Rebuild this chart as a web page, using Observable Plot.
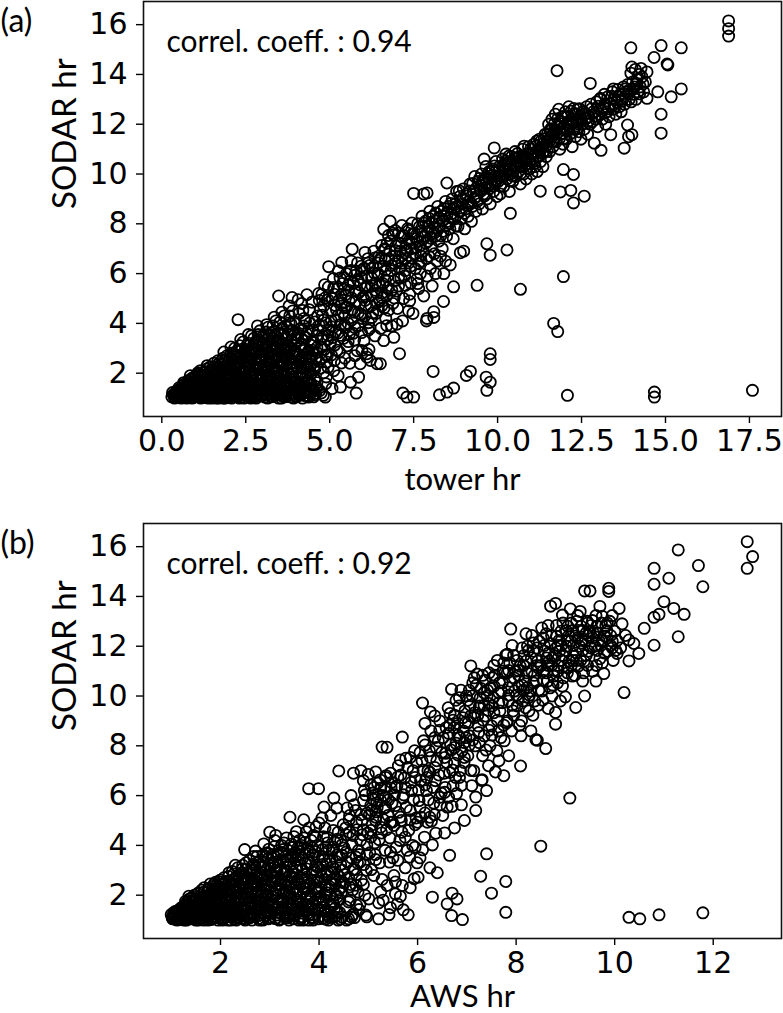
<!DOCTYPE html>
<html>
<head>
<meta charset="utf-8">
<script src="https://cdn.jsdelivr.net/npm/d3@7"></script>
<script src="https://cdn.jsdelivr.net/npm/@observablehq/plot@0.6"></script>
<style>
  body { margin: 0; background: #fff; }
  #chart { width: 783px; }
  #chart svg { display: block; }
</style>
</head>
<body>
<div id="chart"></div>
<script>
// Hourly values (hr): tower / AWS estimates against SODAR estimates, as [x, SODAR] pairs.
const towerVsSodar = [
  // tower 0.3 – 1.0
  [0.30,1.05],[0.32,1.22],[0.38,1.00],[0.41,1.12],[0.45,1.30],[0.48,1.02],[0.35,1.15],[0.50,1.18],
  [0.52,1.08],[0.55,1.35],[0.58,1.00],[0.60,1.22],[0.63,1.50],[0.66,1.05],[0.68,1.30],[0.70,1.15],[0.72,1.42],[0.74,1.00],[0.56,1.15],[0.65,1.62],
  [0.76,1.10],[0.78,1.28],[0.80,1.55],[0.82,1.02],[0.84,1.40],[0.86,1.75],[0.88,1.18],[0.90,1.00],[0.92,1.32],[0.94,1.60],[0.96,1.08],[0.98,1.45],[0.85,1.90],[0.79,1.70],[0.97,1.22],
  [0.36,1.08],[0.43,1.21],[0.47,1.11],[0.53,1.27],[0.57,1.03],[0.61,1.39],[0.64,1.13],[0.69,1.47],[0.71,1.26],[0.73,1.08],[0.77,1.37],[0.81,1.19],[0.83,1.63],[0.87,1.07],[0.89,1.48],[0.91,1.81],[0.93,1.14],[0.95,1.37],[0.99,1.66],[0.62,1.16],[0.84,1.05],
  [0.45,1.17],[0.51,1.06],[0.51,1.41],[0.59,1.29],[0.67,1.19],[0.67,1.56],[0.75,1.33],[0.80,1.12],[0.80,1.68],[0.88,1.38],[0.93,1.02],[0.93,1.52],[0.99,1.26],[0.99,1.87],
  [0.55,1.24],[0.70,1.34],[0.85,1.27],
  // tower 1.0 – 2.0
  [1.00,1.85],[1.02,1.05],[1.04,1.30],[1.06,1.55],[1.08,2.02],[1.10,1.15],[1.12,1.42],[1.14,1.70],[1.16,1.00],[1.18,1.25],[1.20,1.90],[1.22,1.58],[1.24,1.10],[1.05,1.75],[1.15,2.10],[1.21,1.35],
  [1.26,1.02],[1.28,1.48],[1.30,1.78],[1.32,2.05],[1.34,1.20],[1.36,1.62],[1.38,1.00],[1.40,1.35],[1.42,1.92],[1.44,2.25],[1.46,1.12],[1.48,1.55],[1.30,1.30],[1.35,2.30],[1.45,1.75],[1.49,1.00],[1.27,1.65],
  [1.51,1.25],[1.53,1.82],[1.55,2.40],[1.57,1.05],[1.59,1.50],[1.61,2.10],[1.63,1.30],[1.65,1.68],[1.67,2.50],[1.69,1.00],[1.71,1.95],[1.73,1.40],[1.74,2.25],[1.56,1.15],[1.62,1.00],[1.68,1.20],[1.52,2.05],[1.70,1.60],
  [1.76,1.10],[1.78,1.55],[1.80,2.00],[1.82,2.60],[1.84,1.28],[1.86,1.80],[1.88,1.00],[1.90,2.30],[1.92,1.45],[1.94,2.70],[1.96,1.15],[1.98,1.90],[1.77,2.35],[1.83,1.00],[1.89,1.65],[1.95,2.15],[1.99,1.35],[1.85,2.85],
  [1.01,1.12],[1.03,1.44],[1.07,1.23],[1.09,1.67],[1.11,1.93],[1.13,1.04],[1.17,1.52],[1.19,1.31],[1.23,1.82],[1.25,1.18],[1.29,1.41],[1.31,1.57],[1.33,1.09],[1.37,1.86],[1.39,1.27],[1.41,1.68],[1.43,1.06],[1.47,2.13],[1.49,1.38],
  [1.52,1.13],[1.54,1.67],[1.58,1.97],[1.60,1.36],[1.64,1.11],[1.66,1.83],[1.68,2.27],[1.72,1.52],[1.75,1.21],[1.78,2.12],[1.79,1.43],[1.81,1.74],[1.84,2.42],[1.87,1.06],[1.91,1.98],[1.93,1.26],[1.97,2.47],[1.99,1.58],
  [1.08,1.06],[1.35,1.14],[1.56,1.03],[1.83,1.12],[1.18,1.62],[1.44,1.44],[1.72,1.78],[1.94,1.55],
  [1.04,1.61],[1.04,1.09],[1.09,1.38],[1.09,1.97],[1.14,1.21],[1.14,1.83],[1.19,1.49],[1.19,1.08],[1.24,1.69],[1.24,2.03],[1.29,1.13],[1.29,1.89],[1.34,1.51],[1.34,2.17],[1.39,1.74],[1.39,1.17],[1.44,1.33],[1.44,2.04],[1.49,1.86],[1.49,1.21],
  [1.54,1.44],[1.54,2.23],[1.59,1.11],[1.59,1.73],[1.64,2.02],[1.64,1.42],[1.69,1.63],[1.69,2.38],[1.74,1.06],[1.74,1.88],[1.79,1.67],[1.79,2.51],[1.84,1.19],[1.84,2.07],[1.89,1.46],[1.89,2.54],[1.94,1.08],[1.94,1.79],[1.99,2.22],[1.99,1.47],
  [1.00,1.41],[1.15,1.57],[1.30,1.22],[1.45,1.93],[1.60,1.57],[1.75,2.03],[1.90,1.33],
  // tower 2.0 – 3.0
  [2.01,1.02],[2.03,1.60],[2.05,2.20],[2.07,2.80],[2.09,1.30],[2.11,1.85],[2.13,2.50],[2.15,1.10],[2.17,3.00],[2.19,1.50],[2.21,2.05],[2.23,2.65],[2.02,1.40],[2.08,1.00],[2.12,2.35],[2.18,1.75],[2.22,1.20],[2.24,2.90],[2.06,3.05],
  [2.26,1.05],[2.28,1.70],[2.30,2.40],[2.32,3.10],[2.34,1.35],[2.36,2.00],[2.38,2.75],[2.40,1.15],[2.42,3.25],[2.44,1.55],[2.46,2.25],[2.48,2.90],[2.27,2.60],[2.31,1.00],[2.37,1.85],[2.41,2.55],[2.45,1.00],[2.49,1.30],[2.35,3.35],[2.27,4.15],
  [2.51,1.10],[2.53,1.75],[2.55,2.45],[2.57,3.20],[2.59,1.40],[2.61,2.10],[2.63,2.85],[2.65,1.00],[2.67,3.50],[2.69,1.60],[2.71,2.30],[2.73,3.00],[2.52,2.95],[2.56,1.25],[2.62,1.90],[2.66,2.60],[2.70,1.20],[2.74,3.40],[2.58,3.55],
  [2.76,1.05],[2.78,1.85],[2.80,2.55],[2.82,3.30],[2.84,1.45],[2.86,2.20],[2.88,3.00],[2.90,1.15],[2.92,3.70],[2.94,1.70],[2.96,2.45],[2.98,3.15],[2.77,2.80],[2.81,1.00],[2.87,3.55],[2.91,2.00],[2.95,1.30],[2.99,2.75],[2.85,3.90],
  [2.02,1.86],[2.04,1.17],[2.06,2.42],[2.10,1.63],[2.14,2.02],[2.16,1.27],[2.20,2.73],[2.23,1.41],[2.25,1.92],[2.29,2.18],[2.33,1.12],[2.36,2.63],[2.39,1.48],[2.43,2.03],[2.47,1.72],[2.50,2.67],
  [2.54,1.52],[2.58,2.22],[2.60,1.04],[2.64,2.72],[2.68,1.33],[2.72,1.97],[2.75,2.56],[2.79,1.58],[2.83,3.07],[2.86,1.29],[2.89,2.38],[2.93,1.92],[2.97,2.86],[2.99,3.45],
  [2.07,1.09],[2.32,1.23],[2.57,1.12],[2.84,1.07],[2.18,1.92],[2.41,1.80],[2.63,1.49],[2.88,1.71],
  [2.04,1.73],[2.04,2.62],[2.09,1.16],[2.09,2.13],[2.14,1.58],[2.14,2.78],[2.19,1.07],[2.19,2.27],[2.24,1.62],[2.24,2.46],[2.29,1.27],[2.29,2.88],[2.34,1.79],[2.34,2.24],[2.39,1.04],[2.39,2.96],[2.44,1.41],[2.44,2.46],[2.49,2.03],[2.49,1.13],
  [2.54,1.66],[2.54,3.11],[2.59,2.32],[2.59,1.21],[2.64,1.83],[2.64,2.57],[2.69,1.07],[2.69,2.87],[2.74,1.49],[2.74,2.13],[2.79,2.41],[2.79,3.22],[2.84,1.76],[2.84,1.17],[2.89,2.67],[2.89,3.33],[2.94,1.11],[2.94,2.21],[2.99,1.57],[2.99,2.49],
  [2.05,1.53],[2.20,2.43],[2.35,1.63],[2.50,2.23],[2.65,1.43],[2.80,2.13],[2.95,2.63],
  // tower 3.0 – 4.0
  [3.01,1.10],[3.03,1.90],[3.05,2.65],[3.07,3.45],[3.09,1.35],[3.11,2.25],[3.13,3.10],[3.15,1.00],[3.17,3.85],[3.19,1.65],[3.21,2.50],[3.23,3.30],[3.02,2.95],[3.06,1.20],[3.12,3.95],[3.16,2.05],[3.20,1.45],[3.24,2.80],[3.10,3.65],
  [3.26,1.05],[3.28,1.80],[3.30,2.60],[3.32,3.40],[3.34,1.25],[3.36,2.20],[3.38,3.05],[3.40,4.10],[3.42,1.55],[3.44,2.45],[3.46,3.60],[3.48,1.00],[3.27,2.90],[3.31,3.90],[3.37,1.40],[3.41,2.00],[3.45,2.75],[3.49,3.25],[3.35,4.25],[3.48,5.10],
  [3.51,1.15],[3.53,1.95],[3.55,2.80],[3.57,3.55],[3.59,1.35],[3.61,2.35],[3.63,3.20],[3.65,4.30],[3.67,1.05],[3.69,1.70],[3.71,2.60],[3.73,3.85],[3.52,4.05],[3.56,1.00],[3.62,2.05],[3.66,2.95],[3.70,3.40],[3.74,1.25],[3.58,4.45],
  [3.76,1.10],[3.78,2.00],[3.80,2.85],[3.82,3.70],[3.84,1.40],[3.86,2.40],[3.88,3.30],[3.90,4.50],[3.92,1.00],[3.94,1.75],[3.96,2.65],[3.98,4.05],[3.77,3.05],[3.81,4.30],[3.87,1.20],[3.91,2.20],[3.95,3.55],[3.99,1.50],[3.88,5.04],[3.79,4.70],
  [3.03,1.41],[3.06,2.21],[3.09,2.91],[3.13,1.73],[3.16,3.38],[3.19,2.42],[3.22,1.17],[3.25,3.62],[3.28,2.27],[3.31,1.66],[3.34,2.73],[3.38,3.53],[3.41,1.19],[3.44,3.02],[3.47,2.11],[3.50,1.63],
  [3.53,3.27],[3.56,2.47],[3.59,3.81],[3.61,1.54],[3.64,2.63],[3.67,3.13],[3.70,1.12],[3.73,2.33],[3.76,3.57],[3.79,1.81],[3.82,2.58],[3.85,3.98],[3.89,1.32],[3.93,2.88],[3.97,1.62],[3.99,3.42],
  [3.07,1.04],[3.33,1.13],[3.57,1.23],[3.83,1.05],[3.11,1.91],[3.36,1.52],[3.62,1.85],[3.86,2.17],
  [3.04,1.21],[3.04,3.18],[3.09,2.48],[3.09,1.72],[3.14,1.13],[3.14,2.83],[3.19,1.92],[3.19,3.53],[3.24,1.34],[3.24,2.36],[3.29,3.07],[3.29,1.07],[3.34,1.98],[3.34,3.67],[3.39,1.29],[3.39,2.57],[3.44,3.31],[3.44,1.79],[3.49,2.23],[3.49,1.12],
  [3.54,1.63],[3.54,3.02],[3.59,2.67],[3.59,1.09],[3.64,1.97],[3.64,3.57],[3.69,1.22],[3.69,2.83],[3.74,3.11],[3.74,1.53],[3.79,2.27],[3.79,4.02],[3.84,1.16],[3.84,2.97],[3.89,1.86],[3.89,3.71],[3.94,1.33],[3.94,2.43],[3.99,2.87],[3.99,1.08],
  [3.10,1.53],[3.25,2.93],[3.40,1.83],[3.55,2.43],[3.70,3.03],[3.85,1.63],
  // tower 4.0 – 5.0
  [4.01,1.05],[4.03,1.85],[4.05,2.75],[4.07,3.60],[4.09,4.40],[4.11,1.30],[4.13,2.30],[4.15,3.15],[4.17,4.80],[4.19,1.00],[4.21,2.00],[4.23,3.90],[4.04,1.55],[4.10,2.55],[4.16,3.40],[4.22,1.20],[4.24,4.20],[4.06,4.95],
  [4.27,1.10],[4.30,1.90],[4.33,2.80],[4.36,3.70],[4.39,4.55],[4.42,1.35],[4.45,2.35],[4.48,3.25],[4.28,4.10],[4.37,1.04],[4.40,2.05],[4.47,4.85],[4.32,5.15],[4.44,1.60],
  [4.52,1.05],[4.55,1.75],[4.58,2.60],[4.61,3.50],[4.64,4.30],[4.67,5.20],[4.70,1.30],[4.73,2.20],[4.76,3.05],[4.79,3.90],[4.82,4.70],[4.85,5.55],[4.87,1.04],[4.91,2.45],[4.94,3.35],[4.97,6.28],[4.60,1.45],[4.72,4.55],[4.84,2.95],[4.95,4.95],[4.90,1.85],[4.77,5.17],
  [4.02,2.26],[4.05,3.33],[4.08,1.12],[4.12,3.78],[4.14,1.78],[4.18,2.66],[4.20,4.52],[4.23,1.44],[4.26,3.02],[4.29,2.27],[4.31,3.58],[4.34,1.62],[4.38,2.92],[4.41,4.02],[4.43,1.18],[4.46,2.63],[4.49,3.73],
  [4.07,1.22],[4.33,1.08],[4.58,1.19],[4.81,1.11],[4.13,1.56],[4.36,2.12],[4.54,2.28],
  [4.53,3.22],[4.57,4.06],[4.62,2.83],[4.66,3.72],[4.69,4.92],[4.74,2.57],[4.78,4.33],[4.81,3.47],[4.86,5.02],[4.89,4.03],[4.93,2.72],[4.96,5.46],[4.98,3.72],
  [4.04,1.67],[4.04,3.52],[4.09,2.43],[4.09,1.24],[4.14,1.12],[4.14,3.03],[4.19,1.81],[4.19,2.57],[4.24,2.91],[4.24,1.48],[4.29,1.25],[4.29,3.43],[4.34,2.23],[4.34,1.71],[4.39,1.06],[4.39,2.63],[4.44,3.12],[4.44,1.97],[4.49,1.39],[4.49,2.92],
  [4.55,1.13],[4.55,2.13],[4.62,1.62],[4.62,3.03],[4.68,2.47],[4.68,3.93],[4.75,1.21],[4.75,3.37],[4.82,2.02],[4.82,4.13],[4.88,1.58],[4.88,2.73],[4.95,3.52],[4.95,2.23],
  [4.00,2.73],[4.15,2.03],[4.30,2.63],[4.45,1.53],
  // tower 5.0 – 7.5
  [5.02,3.20],[5.05,4.10],[5.08,5.00],[5.11,5.80],[5.14,2.50],[5.17,3.65],[5.20,4.55],[5.23,5.40],[5.26,6.10],[5.29,2.85],[5.32,3.95],[5.35,4.80],[5.38,5.60],[5.41,3.40],[5.44,4.30],[5.47,5.15],[5.50,6.00],[5.07,1.38],[5.32,1.44],[5.12,2.10],[5.45,2.60],[5.25,1.90],[5.36,6.45],[5.12,5.44],[5.42,5.84],
  [5.04,4.52],[5.09,3.43],[5.13,5.17],[5.18,4.13],[5.22,2.92],[5.27,4.92],[5.31,5.82],[5.34,3.52],[5.39,4.43],[5.43,5.36],[5.48,3.83],[5.51,4.66],
  [5.52,3.10],[5.55,4.00],[5.58,4.90],[5.61,5.70],[5.64,6.50],[5.67,6.98],[5.70,3.60],[5.73,4.45],[5.76,5.30],[5.79,6.10],[5.82,2.90],[5.85,3.90],[5.88,4.75],[5.91,5.55],[5.94,6.30],[5.97,4.20],[5.62,1.64],[5.86,1.84],[5.79,1.20],[5.91,2.38],[5.60,2.40],[5.75,2.70],[5.99,5.05],[5.96,2.91],
  [5.56,5.33],[5.59,3.57],[5.63,6.12],[5.66,4.53],[5.71,5.63],[5.74,3.33],[5.78,4.88],[5.83,6.43],[5.87,5.23],[5.92,4.38],[5.95,5.83],
  [5.05,2.73],[5.05,3.87],[5.15,4.73],[5.15,3.13],[5.25,3.62],[5.25,4.31],[5.35,2.41],[5.35,5.13],[5.45,3.93],[5.45,4.63],[5.55,3.27],[5.55,5.53],[5.65,4.13],[5.65,5.03],[5.75,3.83],[5.75,5.93],[5.85,4.42],[5.85,5.73],[5.95,3.63],[5.95,6.13],
  [6.02,3.30],[6.05,4.30],[6.08,5.10],[6.11,5.90],[6.14,6.60],[6.17,2.95],[6.20,3.80],[6.23,4.70],[6.26,5.50],[6.29,6.25],[6.32,6.90],[6.35,3.50],[6.38,4.40],[6.41,5.20],[6.44,6.00],[6.47,6.70],[6.11,2.64],[6.41,2.38],[6.21,2.51],[6.49,4.90],[6.05,6.85],[6.11,2.78],[6.51,2.38],
  [6.03,6.22],[6.07,4.73],[6.12,5.52],[6.16,4.03],[6.19,6.33],[6.24,5.13],[6.28,4.42],[6.33,6.02],[6.37,5.62],[6.42,4.83],[6.46,6.43],[6.49,5.52],
  [6.05,4.92],[6.05,5.42],[6.15,3.73],[6.15,6.43],[6.25,4.23],[6.25,5.82],[6.35,5.33],[6.35,6.63],[6.45,4.53],[6.45,5.93],
  [6.52,3.80],[6.55,4.70],[6.58,5.60],[6.61,6.30],[6.61,7.78],[6.64,7.00],[6.67,4.20],[6.70,5.10],[6.73,5.90],[6.76,6.60],[6.80,8.10],[6.82,7.30],[6.85,3.90],[6.88,4.80],[6.91,5.70],[6.94,6.40],[6.97,7.10],[6.99,5.30],[6.61,3.31],[6.91,3.44],[6.70,3.91],[7.00,3.97],[6.65,6.95],[6.90,7.55],
  [6.53,6.63],[6.57,5.23],[6.62,4.62],[6.66,6.13],[6.71,7.22],[6.74,5.43],[6.79,6.92],[6.83,6.12],[6.87,7.62],[6.92,5.02],[6.96,6.72],
  [6.55,5.03],[6.55,7.13],[6.65,5.73],[6.65,6.53],[6.75,4.53],[6.75,7.53],[6.85,6.33],[6.85,5.33],[6.95,6.93],[6.95,7.73],
  [7.02,4.60],[7.05,5.50],[7.08,6.20],[7.11,6.90],[7.14,7.50],[7.17,4.10],[7.20,5.00],[7.23,5.90],[7.26,6.60],[7.29,7.20],[7.32,7.80],[7.35,4.50],[7.38,5.17],[7.38,4.90],[7.41,6.30],[7.44,7.00],[7.47,7.60],[7.48,4.40],[7.08,2.78],[7.18,1.20],[7.30,1.04],[7.50,1.04],
  [7.03,6.52],[7.07,7.22],[7.12,5.82],[7.16,6.72],[7.21,7.52],[7.25,6.12],[7.31,6.92],[7.36,7.32],[7.42,5.62],[7.46,6.62],
  [7.05,5.83],[7.05,7.63],[7.15,6.42],[7.15,7.93],[7.25,5.53],[7.25,7.03],[7.35,6.43],[7.35,7.73],[7.45,7.23],[7.45,8.03],
  // tower 7.5 – 10
  [7.50,9.22],[7.80,9.20],[7.90,9.24],
  [7.55,6.80],[7.58,7.40],[7.62,8.00],[7.65,6.40],[7.68,7.10],[7.72,7.70],[7.75,8.30],[7.78,6.90],[7.82,7.50],[7.85,8.10],[7.88,6.60],[7.92,7.30],[7.95,7.90],[7.98,8.50],
  [7.53,7.62],[7.57,7.05],[7.63,7.32],[7.67,7.88],[7.71,6.72],[7.76,7.46],[7.81,8.02],[7.86,7.22],[7.91,7.68],[7.96,8.22],
  [8.02,7.10],[8.05,7.70],[8.08,8.30],[8.12,6.80],[8.15,7.50],[8.18,8.10],[8.22,8.70],[8.25,7.30],[8.28,7.90],[8.32,8.50],[8.35,7.00],[8.38,7.70],[8.42,8.30],[8.45,8.90],[8.48,7.50],[8.49,9.64],
  [8.01,7.42],[8.06,8.02],[8.11,7.62],[8.16,8.43],[8.21,7.82],[8.26,8.22],[8.31,7.52],[8.36,8.12],[8.41,8.62],[8.46,7.92],
  [8.52,8.10],[8.55,8.70],[8.58,7.80],[8.62,8.40],[8.65,9.00],[8.68,7.40],[8.72,8.20],[8.75,8.80],[8.78,9.30],[8.82,7.90],[8.85,8.50],[8.88,9.10],[8.92,8.20],[8.95,8.80],[8.98,9.40],
  [8.51,8.42],[8.56,8.02],[8.61,8.82],[8.66,8.22],[8.71,8.62],[8.76,7.92],[8.81,8.72],[8.86,9.32],[8.91,8.52],[8.96,9.02],
  [9.02,7.80],[9.05,8.60],[9.08,9.20],[9.12,8.30],[9.15,8.90],[9.18,9.60],[9.22,8.10],[9.25,8.70],[9.28,9.30],[9.32,9.90],[9.35,8.50],[9.38,9.10],[9.42,9.70],[9.45,8.80],[9.48,9.40],
  [9.01,8.42],[9.06,9.12],[9.11,8.72],[9.16,9.32],[9.21,8.82],[9.26,9.62],[9.31,9.02],[9.36,9.42],[9.41,8.92],[9.46,9.82],
  [9.52,10.00],[9.55,8.60],[9.58,9.20],[9.62,9.80],[9.65,10.30],[9.68,9.00],[9.72,9.50],[9.75,10.10],[9.78,8.80],[9.82,9.60],[9.85,10.20],[9.88,9.30],[9.92,9.90],[9.95,10.50],[9.98,9.10],[9.90,11.05],[9.60,10.60],
  [9.51,9.32],[9.56,9.72],[9.61,9.12],[9.66,9.62],[9.71,10.02],[9.76,9.42],[9.81,9.92],[9.86,9.52],[9.91,10.32],[9.96,9.72],
  [9.53,9.53],[9.63,9.43],[9.73,9.83],[9.83,10.13],[9.93,9.63],
  // below the main band
  [7.60,5.78],[7.90,5.90],[8.39,4.88],[7.88,4.10],[8.10,4.47],[8.10,4.24],[7.90,4.20],[8.59,6.35],[8.69,5.47],[9.39,5.53],[8.89,6.84],[8.99,6.90],[9.68,7.20],[9.78,6.74],[10.28,6.95],[10.68,5.37],[11.96,5.88],[11.67,4.00],[11.79,3.67],
  [7.70,6.00],[8.00,6.20],[8.20,6.50],[8.40,6.00],[7.65,5.40],[7.80,5.10],[7.55,6.20],[7.72,6.50],[7.95,6.70],[8.15,6.00],[8.30,6.70],[8.45,6.50],[7.62,5.60],[8.05,5.50],[11.27,9.31],
  [8.08,2.07],[9.07,1.91],[9.19,2.07],[9.78,2.78],[9.78,2.55],[9.66,1.84],[9.78,1.64],[9.68,1.31],[8.27,1.13],[8.49,1.24],[8.69,1.40],[12.08,1.11],[14.67,1.24],[14.67,1.04],[17.59,1.31],
  // tower 10 – 12.5
  [10.02,9.70],[10.05,10.30],[10.08,9.20],[10.12,9.90],[10.15,10.60],[10.18,9.50],[10.22,10.10],[10.25,10.80],[10.28,9.80],[10.32,10.40],[10.35,9.30],[10.38,10.00],[10.38,8.42],[10.42,10.70],[10.45,9.70],[10.48,10.30],
  [10.03,10.12],[10.09,9.52],[10.14,10.32],[10.19,9.92],[10.24,10.52],[10.29,10.12],[10.34,10.72],[10.39,10.22],[10.44,9.92],[10.49,10.62],
  [10.07,9.93],[10.17,10.23],[10.27,10.43],[10.37,9.73],[10.47,10.13],
  [10.52,10.90],[10.55,9.90],[10.58,10.50],[10.62,10.10],[10.65,10.70],[10.68,9.60],[10.72,10.30],[10.75,11.00],[10.78,10.00],[10.82,10.60],[10.85,9.80],[10.88,10.40],[10.92,11.10],[10.95,10.20],[10.98,10.80],
  [10.54,10.32],[10.59,10.82],[10.64,10.42],[10.69,10.02],[10.74,10.62],[10.79,11.12],[10.84,10.52],[10.89,10.82],[10.94,10.42],[10.99,11.02],
  [10.57,10.63],[10.67,10.33],[10.77,10.73],[10.87,10.23],[10.97,10.53],
  [11.02,10.00],[11.05,10.60],[11.08,11.20],[11.12,10.30],[11.15,10.90],[11.18,10.10],[11.22,10.70],[11.25,11.40],[11.28,10.50],[11.32,11.10],[11.35,10.30],[11.38,10.90],[11.42,11.60],[11.45,10.70],[11.48,11.30],
  [11.04,10.82],[11.09,10.42],[11.14,11.12],[11.19,10.72],[11.24,11.02],[11.29,11.32],[11.34,10.82],[11.39,11.42],[11.44,11.12],[11.49,11.62],
  [11.07,10.83],[11.17,11.33],[11.27,10.93],[11.37,11.23],[11.47,10.93],
  [11.52,12.00],[11.55,10.90],[11.58,11.50],[11.62,12.20],[11.65,11.10],[11.68,11.70],[11.72,12.40],[11.75,11.30],[11.77,14.15],[11.78,11.90],[11.82,12.60],[11.85,11.00],[11.88,11.60],[11.92,12.30],[11.95,11.20],[11.98,11.90],[11.96,10.18],[11.87,9.28],
  [11.54,11.32],[11.59,11.82],[11.64,11.52],[11.69,12.02],[11.74,11.72],[11.79,12.22],[11.84,11.42],[11.89,12.02],[11.94,11.62],[11.99,12.32],
  [11.57,11.73],[11.67,11.33],[11.77,11.63],[11.87,12.13],[11.97,11.43],
  [12.02,12.50],[12.05,11.40],[12.08,12.00],[12.12,12.70],[12.15,11.60],[12.18,12.20],[12.18,9.34],[12.22,11.10],[12.25,11.80],[12.26,9.98],[12.26,8.84],[12.28,12.40],[12.32,11.50],[12.35,12.10],[12.38,12.60],[12.42,11.70],[12.45,12.30],[12.48,11.40],[12.58,9.11],
  [12.04,11.82],[12.09,12.32],[12.14,11.92],[12.19,12.52],[12.24,12.12],[12.29,11.82],[12.34,12.42],[12.39,12.02],[12.44,12.62],[12.49,12.22],
  [12.07,11.73],[12.17,12.03],[12.27,12.63],[12.37,11.83],[12.47,12.13],
  // tower 12.5 – 14.5
  [12.52,12.00],[12.55,12.50],[12.58,11.80],[12.62,12.20],[12.65,12.70],[12.68,11.60],[12.72,12.30],[12.75,12.00],[12.76,13.64],[12.78,12.80],[12.82,12.10],[12.85,12.50],[12.88,11.24],[12.92,12.20],[12.95,12.90],[12.98,11.90],
  [13.02,12.40],[13.05,13.00],[13.08,10.95],[13.12,12.20],[13.15,12.70],[13.18,13.20],[13.22,12.00],[13.25,12.50],[13.28,13.10],[13.32,12.30],[13.35,12.80],[13.37,11.58],[13.42,13.30],[13.45,12.60],[13.48,13.00],
  [13.52,12.40],[13.55,12.90],[13.58,13.40],[13.62,12.70],[13.65,13.20],[13.68,12.50],[13.72,13.00],[13.75,13.50],[13.77,11.04],[13.78,12.80],[13.82,13.30],[13.87,11.97],[13.88,13.60],[13.90,11.50],[13.92,13.00],[13.95,13.40],[13.97,15.07],[13.98,12.90],
  [14.00,11.58],[14.02,13.70],[14.05,13.20],[14.08,13.50],[14.10,14.20],[14.12,13.00],[14.15,13.80],[14.18,13.30],[14.22,14.00],[14.25,13.50],[14.30,13.90],[14.35,13.30],[14.40,13.70],[14.00,14.30],[13.97,14.05],
  [14.45,14.10],[14.27,14.24],[14.15,13.64],[13.45,13.42],[13.06,13.04],[14.45,13.04],
  [12.60,12.42],[12.70,12.12],[12.80,12.62],[12.90,12.32],[13.00,12.72],[13.10,12.52],[13.20,12.82],[13.30,12.62],[13.40,13.12],[13.50,12.72],[13.60,13.12],[13.70,12.92],[13.80,13.42],[13.90,13.22],[14.03,13.42],[14.13,13.62],[14.23,13.22],[14.33,13.62],
  // tower above 14.5
  [14.66,14.68],[14.77,13.30],[14.87,15.16],[14.87,12.40],[14.87,11.64],[15.07,14.38],[15.05,14.42],[15.17,13.10],[15.47,15.07],[15.47,13.42],[16.88,16.15],[16.88,15.84],[16.88,15.54]
];

const awsVsSodar = [
  // AWS 1.0 – 2.0
  [1.00,1.22],[1.03,1.05],[1.06,1.15],[1.09,1.35],[1.12,1.00],[1.15,1.25],[1.18,1.45],[1.19,1.41],[1.05,1.30],[1.14,1.10],
  [1.21,1.02],[1.23,1.30],[1.25,1.55],[1.27,1.15],[1.29,1.75],[1.31,1.00],[1.33,1.40],[1.35,1.62],[1.36,1.96],[1.38,1.20],[1.22,1.48],[1.30,1.10],[1.37,1.85],[1.26,1.00],[1.39,1.50],
  [1.41,1.05],[1.43,1.35],[1.45,1.70],[1.47,2.00],[1.49,1.15],[1.51,1.55],[1.53,2.05],[1.55,1.00],[1.57,1.85],[1.59,1.25],[1.42,1.90],[1.46,1.45],[1.50,1.00],[1.54,1.30],[1.58,1.62],[1.44,1.10],[1.56,2.10],
  [1.61,1.08],[1.63,1.45],[1.65,1.90],[1.67,2.30],[1.69,1.20],[1.71,1.65],[1.73,2.10],[1.75,1.00],[1.77,1.40],[1.79,2.45],[1.62,2.20],[1.66,1.00],[1.70,1.80],[1.74,1.30],[1.78,1.95],[1.64,1.60],[1.68,1.15],[1.76,2.25],
  [1.81,1.02],[1.83,1.50],[1.85,2.00],[1.87,2.45],[1.89,1.25],[1.90,2.52],[1.91,1.75],[1.93,2.25],[1.95,1.00],[1.97,1.40],[1.99,2.60],[1.82,1.85],[1.86,1.15],[1.88,2.20],[1.92,1.60],[1.96,2.05],[1.98,1.20],[1.84,2.35],[2.00,2.52],
  [1.02,1.13],[1.07,1.27],[1.11,1.07],[1.16,1.38],[1.20,1.17],[1.24,1.41],[1.28,1.07],[1.32,1.63],[1.34,1.27],[1.40,1.12],[1.43,1.58],[1.45,1.22],[1.48,1.83],[1.52,1.41],[1.55,1.17],[1.58,1.77],
  [1.60,1.06],[1.62,1.53],[1.65,1.27],[1.68,1.97],[1.70,1.39],[1.72,1.12],[1.75,1.66],[1.78,1.24],[1.80,2.07],[1.83,1.33],[1.85,1.68],[1.88,1.09],[1.90,1.87],[1.93,1.42],[1.95,2.33],[1.98,1.73],
  [1.10,1.02],[1.47,1.05],[1.73,1.05],[1.27,1.33],[1.53,1.63],[1.79,1.86],
  [1.02,1.08],[1.08,1.19],[1.13,1.31],[1.17,1.06],[1.22,1.24],[1.22,1.52],[1.27,1.42],[1.32,1.18],[1.32,1.71],[1.37,1.07],[1.37,1.53],[1.42,1.28],[1.42,1.78],[1.47,1.62],[1.47,1.14],[1.52,1.29],[1.52,1.92],[1.57,1.48],[1.57,1.07],
  [1.62,1.78],[1.62,1.26],[1.67,1.53],[1.67,2.13],[1.72,1.21],[1.72,1.92],[1.77,1.61],[1.77,2.27],[1.82,1.09],[1.82,2.11],[1.87,1.37],[1.87,1.88],[1.92,2.37],[1.92,1.13],[1.97,1.57],[1.97,2.18],
  [1.15,1.18],[1.30,1.47],[1.45,1.33],[1.60,1.85],[1.75,1.43],[1.90,2.13],
  // AWS 2.0 – 3.0
  [2.01,1.05],[2.03,1.55],[2.05,2.10],[2.07,2.70],[2.09,1.30],[2.11,1.85],[2.13,2.40],[2.15,1.00],[2.17,2.90],[2.19,1.60],[2.02,2.30],[2.06,1.20],[2.10,2.55],[2.14,1.75],[2.18,2.15],[2.04,1.00],[2.12,1.40],[2.16,2.75],[2.20,1.15],
  [2.21,1.00],[2.23,1.60],[2.25,2.20],[2.27,2.85],[2.29,1.35],[2.31,1.95],[2.33,2.55],[2.35,3.10],[2.37,1.10],[2.39,1.75],[2.22,2.45],[2.26,1.20],[2.30,3.20],[2.34,1.50],[2.38,2.30],[2.24,2.95],[2.32,1.00],[2.36,2.70],[2.40,1.30],
  [2.41,2.05],[2.43,2.60],[2.45,3.20],[2.47,1.05],[2.49,1.65],[2.49,3.83],[2.51,2.30],[2.53,2.90],[2.55,1.25],[2.57,1.90],[2.59,3.40],[2.42,1.40],[2.46,2.75],[2.50,1.00],[2.54,2.10],[2.58,1.50],[2.44,3.05],[2.52,3.30],[2.56,2.55],[2.60,1.10],
  [2.61,1.70],[2.63,2.35],[2.65,3.00],[2.67,3.55],[2.69,1.15],[2.71,2.00],[2.71,3.77],[2.73,2.70],[2.75,1.45],[2.77,3.30],[2.79,1.00],[2.62,2.90],[2.66,1.30],[2.68,2.50],[2.70,3.20],[2.72,1.85],[2.74,3.55],[2.76,2.15],[2.78,1.60],[2.64,1.00],[2.80,2.85],
  [2.81,1.20],[2.83,1.95],[2.85,2.60],[2.87,3.35],[2.88,4.06],[2.89,1.50],[2.91,2.25],[2.93,3.00],[2.95,3.70],[2.97,1.05],[2.99,1.80],[2.82,3.10],[2.86,1.00],[2.90,2.80],[2.92,3.55],[2.94,1.35],[2.96,2.45],[2.98,3.85],[2.84,2.10],[3.00,4.53],[2.99,1.40],
  [2.01,1.38],[2.04,1.97],[2.06,1.62],[2.08,2.47],[2.11,1.13],[2.13,2.02],[2.16,1.52],[2.19,2.38],[2.21,1.83],[2.23,1.23],[2.26,2.63],[2.28,1.68],[2.31,2.17],[2.33,1.33],[2.36,1.92],[2.38,2.82],
  [2.41,1.19],[2.43,1.83],[2.46,2.33],[2.48,1.43],[2.51,2.68],[2.53,1.18],[2.56,1.73],[2.58,2.93],[2.61,2.13],[2.63,1.32],[2.66,2.22],[2.68,3.03],[2.71,1.52],[2.73,2.38],[2.76,1.18],[2.78,2.77],
  [2.81,1.73],[2.83,2.42],[2.86,3.62],[2.88,1.28],[2.91,1.97],[2.93,2.62],[2.96,1.63],[2.98,3.22],
  [2.02,1.08],[2.29,1.05],[2.57,1.08],[2.84,1.04],[2.05,2.18],[2.31,2.42],[2.57,2.63],[2.83,2.92],
  [2.02,1.22],[2.02,2.43],[2.07,1.83],[2.07,1.09],[2.12,2.23],[2.12,1.52],[2.17,1.31],[2.17,2.57],[2.22,1.93],[2.22,1.11],[2.27,2.42],[2.27,1.57],[2.32,1.21],[2.32,2.73],[2.37,1.68],[2.37,2.13],[2.42,1.07],[2.42,2.88],[2.47,1.93],[2.47,2.48],
  [2.52,1.37],[2.52,3.03],[2.57,2.23],[2.57,1.13],[2.62,1.58],[2.62,2.68],[2.67,1.23],[2.67,3.23],[2.72,2.53],[2.72,1.62],[2.77,1.07],[2.77,2.03],[2.82,2.73],[2.82,1.42],[2.87,1.88],[2.87,3.13],[2.92,1.17],[2.92,2.38],[2.97,3.48],[2.97,1.66],
  [2.05,1.43],[2.20,2.03],[2.35,1.43],[2.50,1.83],[2.65,2.43],[2.80,1.33],[2.95,2.03],
  // AWS 3.0 – 4.0
  [3.01,1.10],[3.03,1.85],[3.05,2.55],[3.07,3.25],[3.09,3.95],[3.11,1.40],[3.13,2.20],[3.15,2.95],[3.17,3.65],[3.19,1.00],[3.02,2.85],[3.06,1.60],[3.10,4.20],[3.14,1.20],[3.18,2.40],[3.04,3.50],[3.08,2.05],[3.12,3.00],[3.16,1.70],[3.20,3.40],[3.12,4.40],
  [3.21,1.05],[3.23,1.80],[3.25,2.60],[3.27,3.35],[3.29,4.10],[3.31,1.30],[3.33,2.20],[3.35,2.95],[3.37,3.80],[3.39,1.00],[3.22,3.05],[3.26,1.55],[3.30,2.45],[3.34,4.30],[3.38,1.70],[3.24,4.00],[3.28,2.10],[3.32,3.55],[3.36,1.15],[3.40,2.75],
  [3.41,5.13],[3.41,1.20],[3.43,1.95],[3.45,2.75],[3.47,3.55],[3.49,4.35],[3.51,1.45],[3.53,2.30],[3.55,3.10],[3.57,3.90],[3.59,1.00],[3.42,3.25],[3.46,1.70],[3.50,2.55],[3.54,4.55],[3.58,1.80],[3.44,4.05],[3.48,1.05],[3.52,3.40],[3.56,2.10],[3.60,4.20],
  [3.61,1.10],[3.63,1.90],[3.65,2.70],[3.67,3.50],[3.69,4.30],[3.69,5.03],[3.71,1.35],[3.73,2.25],[3.75,3.05],[3.77,3.85],[3.79,1.00],[3.79,6.28],[3.62,3.20],[3.66,1.55],[3.70,2.50],[3.74,4.55],[3.78,1.75],[3.64,4.00],[3.68,1.00],[3.72,3.70],[3.76,2.05],[3.80,4.70],
  [3.81,1.20],[3.83,2.00],[3.85,2.80],[3.87,3.60],[3.89,4.40],[3.91,1.40],[3.93,2.30],[3.95,3.20],[3.97,4.00],[3.99,1.05],[3.99,6.28],[3.82,3.30],[3.86,1.65],[3.90,2.60],[3.94,4.75],[3.98,1.85],[3.84,4.20],[3.88,1.00],[3.92,3.75],[3.96,2.15],[4.00,4.90],
  [3.01,2.32],[3.03,1.27],[3.06,2.77],[3.08,1.53],[3.11,3.32],[3.13,2.02],[3.16,2.62],[3.18,1.33],[3.21,2.22],[3.23,3.72],[3.26,1.83],[3.28,2.88],[3.31,1.17],[3.33,2.58],[3.36,3.42],[3.38,2.02],
  [3.41,1.62],[3.43,2.52],[3.46,3.92],[3.48,2.22],[3.51,1.22],[3.53,2.83],[3.56,1.53],[3.58,3.62],[3.61,2.43],[3.63,1.28],[3.66,3.02],[3.68,2.13],[3.71,4.12],[3.73,1.62],[3.76,2.73],[3.78,3.32],
  [3.81,1.53],[3.83,2.43],[3.86,3.92],[3.88,1.22],[3.91,3.02],[3.93,1.73],[3.96,2.53],[3.98,3.52],
  [3.11,1.06],[3.37,1.09],[3.63,1.04],[3.89,1.07],[3.09,3.12],[3.35,3.27],[3.61,3.42],[3.87,3.62],
  [3.02,1.33],[3.02,2.53],[3.07,1.93],[3.07,3.63],[3.12,1.07],[3.12,2.73],[3.17,1.52],[3.17,3.18],[3.22,2.43],[3.22,1.27],[3.27,1.72],[3.27,3.83],[3.32,2.93],[3.32,1.09],[3.37,1.43],[3.37,2.38],[3.42,3.53],[3.42,1.88],[3.47,1.18],[3.47,2.93],
  [3.52,2.03],[3.52,3.72],[3.57,1.32],[3.57,2.62],[3.62,3.93],[3.62,1.67],[3.67,2.33],[3.67,1.13],[3.72,1.92],[3.72,3.27],[3.77,1.27],[3.77,2.53],[3.82,3.73],[3.82,1.88],[3.87,1.11],[3.87,2.93],[3.92,2.23],[3.92,4.33],[3.97,1.42],[3.97,3.13],
  [3.10,2.53],[3.25,1.43],[3.40,2.13],[3.55,1.73],[3.70,2.83],[3.85,1.43],
  // AWS 4.0 – 5.0
  [4.01,1.15],[4.03,1.95],[4.05,2.75],[4.07,3.55],[4.09,4.35],[4.10,5.54],[4.11,1.50],[4.13,2.40],[4.15,3.25],[4.17,4.10],[4.19,1.00],[4.04,3.00],[4.08,1.70],[4.12,4.70],[4.16,2.10],[4.20,3.80],[4.06,5.10],[4.18,1.35],
  [4.21,1.10],[4.23,2.00],[4.25,2.90],[4.27,3.80],[4.29,4.60],[4.30,5.90],[4.31,1.45],[4.33,2.45],[4.35,3.35],[4.37,4.25],[4.39,1.00],[4.24,5.20],[4.28,1.75],[4.32,3.05],[4.36,5.50],[4.40,2.20],[4.40,6.99],
  [4.42,1.30],[4.45,2.10],[4.48,3.00],[4.51,3.90],[4.54,4.70],[4.57,5.50],[4.60,1.05],[4.60,2.72],[4.63,1.80],[4.66,3.50],[4.69,4.40],[4.44,4.20],[4.50,2.50],[4.56,1.00],[4.62,5.20],[4.68,2.20],[4.47,3.60],[4.65,6.00],
  [4.72,1.10],[4.75,2.40],[4.78,3.30],[4.81,1.42],[4.84,4.20],[4.87,5.00],[4.90,5.80],[4.93,2.00],[4.96,3.00],[4.99,4.50],[4.74,5.40],[4.80,3.80],[4.86,2.60],[4.92,6.20],[4.98,5.30],[4.76,1.60],[4.95,1.20],
  [4.70,6.90],[4.85,7.00],[5.00,6.85],[5.15,6.95],[5.45,6.90],[5.60,6.75],[4.90,6.60],
  [4.02,1.38],[4.04,2.33],[4.07,3.23],[4.09,1.83],[4.12,2.63],[4.14,3.93],[4.17,1.22],[4.19,2.23],[4.22,3.43],[4.24,1.63],[4.27,2.63],[4.29,3.93],[4.32,1.13],[4.34,2.03],[4.37,2.83],[4.39,4.53],
  [4.42,1.83],[4.44,3.23],[4.47,2.33],[4.49,4.83],[4.13,1.04],[4.43,1.05],[4.66,1.12],[4.11,3.43],[4.37,3.62],
  [4.52,2.83],[4.55,4.43],[4.58,3.33],[4.61,5.03],[4.64,2.43],[4.67,4.03],[4.71,5.63],[4.73,3.03],[4.77,4.63],[4.79,2.13],[4.82,3.63],[4.85,5.23],[4.88,4.43],[4.91,3.23],[4.94,6.03],[4.97,4.03],
  [4.02,1.72],[4.02,2.53],[4.07,1.07],[4.07,3.83],[4.12,2.03],[4.12,1.33],[4.17,2.93],[4.17,4.33],[4.22,1.52],[4.22,2.33],[4.27,1.13],[4.27,3.13],[4.32,2.63],[4.32,4.13],[4.37,1.33],[4.37,1.93],[4.42,3.53],[4.42,2.73],[4.47,1.12],[4.47,4.03],
  [4.55,1.53],[4.55,3.73],[4.62,2.33],[4.62,4.53],[4.69,1.23],[4.69,3.03],[4.76,2.83],[4.76,4.93],[4.83,1.63],[4.83,3.33],[4.90,2.43],[4.90,4.63],[4.97,1.13],[4.97,3.63],
  [4.00,2.13],[4.15,2.83],[4.30,1.63],[4.45,2.53],[4.60,1.73],[4.75,3.53],
  // AWS 5.0 – 6.0
  [5.01,1.85],[5.03,3.70],[5.05,4.60],[5.07,5.40],[5.09,6.10],[5.11,2.79],[5.13,4.10],[5.15,5.00],[5.17,5.70],[5.19,6.50],[5.21,1.05],[5.21,1.69],[5.23,3.30],[5.25,5.80],[5.27,4.50],[5.28,7.95],[5.30,6.00],[5.32,5.50],[5.34,3.80],[5.36,6.80],[5.38,7.94],[5.38,2.39],[5.40,5.20],[5.42,1.22],[5.44,4.30],[5.46,6.30],[5.48,5.70],[5.10,5.85],[5.20,6.05],[5.05,5.60],[5.15,5.35],[5.35,5.95],[5.25,6.30],[5.50,3.50],
  [5.02,5.23],[5.06,3.03],[5.08,4.83],[5.12,6.33],[5.14,3.63],[5.18,5.53],[5.22,4.23],[5.24,6.63],[5.28,2.63],[5.31,5.03],[5.33,6.33],[5.37,4.63],[5.41,5.83],[5.43,3.33],[5.47,6.53],[5.49,4.93],
  [5.05,4.33],[5.05,6.43],[5.15,3.43],[5.15,5.13],[5.25,4.73],[5.25,2.13],[5.35,5.53],[5.35,6.73],[5.45,3.73],[5.45,4.93],
  [5.52,2.79],[5.52,4.80],[5.55,5.60],[5.58,6.40],[5.59,1.65],[5.61,7.20],[5.64,4.20],[5.67,5.00],[5.69,2.39],[5.69,8.35],[5.70,5.90],[5.71,1.41],[5.73,6.70],[5.76,7.50],[5.79,3.80],[5.81,1.21],[5.82,4.60],[5.85,5.40],[5.88,6.20],[5.91,7.00],[5.93,2.66],[5.94,7.80],[5.97,5.10],[5.99,3.30],[5.60,3.40],[5.75,3.10],[5.90,4.00],
  [5.53,6.03],[5.57,3.93],[5.62,5.33],[5.66,6.83],[5.68,4.53],[5.72,6.03],[5.77,5.53],[5.80,7.13],[5.84,3.53],[5.87,6.53],[5.92,5.83],[5.95,4.83],[5.98,7.33],
  [5.55,6.33],[5.55,2.53],[5.65,5.13],[5.65,7.43],[5.75,4.33],[5.75,6.33],[5.85,5.03],[5.85,7.53],[5.95,6.73],[5.95,3.93],
  [5.55,2.05],[5.30,1.80],[5.65,1.95],[5.85,2.30],[5.45,1.50],
  // AWS 6.0 – 7.0
  [6.00,4.93],[6.01,2.72],[6.03,5.80],[6.06,6.60],[6.09,7.40],[6.10,3.82],[6.10,9.72],[6.12,8.20],[6.15,5.30],[6.18,6.20],[6.20,4.93],[6.21,7.00],[6.24,7.80],[6.27,8.60],[6.28,4.97],[6.30,4.02],[6.30,1.92],[6.33,5.70],[6.36,6.60],[6.37,4.49],[6.39,7.40],[6.42,8.20],[6.45,9.00],[6.48,6.10],[6.05,3.50],[6.25,3.10],[6.40,2.90],[6.15,8.90],[6.35,9.20],[6.26,9.36],
  [6.02,6.23],[6.07,5.13],[6.11,7.03],[6.14,4.33],[6.19,6.73],[6.22,5.83],[6.26,7.53],[6.31,6.33],[6.34,5.23],[6.38,7.93],[6.43,6.83],[6.46,5.63],[6.49,7.73],
  [6.05,7.73],[6.05,5.53],[6.15,6.43],[6.15,8.03],[6.25,5.13],[6.25,6.93],[6.35,8.33],[6.35,7.13],[6.45,5.93],[6.45,8.63],
  [6.51,5.20],[6.54,6.90],[6.57,7.70],[6.60,5.54],[6.60,1.65],[6.63,8.50],[6.66,9.30],[6.69,10.27],[6.69,1.18],[6.70,5.57],[6.70,2.08],[6.72,6.40],[6.75,7.30],[6.78,8.10],[6.79,6.08],[6.80,1.85],[6.81,8.90],[6.84,9.60],[6.87,7.00],[6.89,6.41],[6.90,7.80],[6.91,1.02],[6.93,8.60],[6.96,9.40],[6.99,10.00],[6.55,4.50],[6.75,4.70],[6.95,5.00],[6.65,3.60],
  [6.52,8.33],[6.56,6.33],[6.59,7.33],[6.63,5.93],[6.67,8.03],[6.71,7.03],[6.74,8.73],[6.77,6.73],[6.82,7.63],[6.86,8.33],[6.89,5.63],[6.94,7.33],[6.97,8.93],
  [6.55,7.53],[6.55,6.13],[6.65,8.83],[6.65,6.93],[6.75,7.93],[6.75,9.23],[6.85,6.73],[6.85,9.93],[6.95,8.13],[6.95,7.53],
  [6.58,8.73],[6.62,9.53],[6.68,7.83],[6.72,9.03],[6.78,9.83],[6.82,8.43],[6.88,10.23],[6.92,9.13],[6.98,8.33],
  // AWS 7.0 – 8.0
  [7.02,7.60],[7.05,8.40],[7.08,9.20],[7.08,7.01],[7.08,11.21],[7.11,10.00],[7.14,7.00],[7.17,8.00],[7.18,5.94],[7.18,5.40],[7.21,10.88],[7.23,8.80],[7.26,9.60],[7.28,2.76],[7.29,10.30],[7.30,6.61],[7.32,7.60],[7.35,8.40],[7.38,9.20],[7.40,3.66],[7.41,10.00],[7.44,7.20],[7.47,8.00],[7.50,2.08],[7.50,8.80],[7.31,6.64],[7.45,9.70],[7.10,6.40],[7.40,6.20],
  [7.03,8.93],[7.07,9.63],[7.12,8.23],[7.16,9.33],[7.19,10.43],[7.24,8.53],[7.27,9.93],[7.33,9.03],[7.36,10.63],[7.39,7.83],[7.43,9.43],[7.48,10.33],
  [7.05,10.23],[7.05,8.03],[7.15,9.13],[7.15,10.73],[7.25,8.13],[7.25,9.53],[7.35,10.13],[7.35,9.63],[7.45,8.63],[7.45,10.93],
  [7.02,9.83],[7.12,10.53],[7.22,9.23],[7.32,10.83],[7.42,10.23],
  [7.52,9.60],[7.55,10.40],[7.58,6.95],[7.61,7.80],[7.64,8.60],[7.67,9.40],[7.70,10.20],[7.73,11.00],[7.76,8.20],[7.79,11.64],[7.79,2.55],[7.79,1.31],[7.82,11.68],[7.82,9.00],[7.85,9.80],[7.88,10.60],[7.89,12.69],[7.91,8.60],[7.94,9.40],[7.97,10.20],[7.99,11.00],[7.65,7.40],[7.85,7.60],[7.75,6.80],
  [7.51,8.43],[7.54,9.93],[7.57,10.83],[7.62,9.03],[7.66,10.53],[7.69,8.33],[7.72,9.73],[7.77,10.93],[7.81,8.93],[7.84,10.33],[7.87,11.33],[7.92,9.63],[7.96,10.73],
  [7.55,9.33],[7.55,11.23],[7.65,10.13],[7.65,9.73],[7.75,11.33],[7.75,8.83],[7.85,10.03],[7.85,11.03],[7.95,9.23],[7.95,11.63],
  [7.52,10.73],[7.62,11.43],[7.72,10.53],[7.82,10.93],[7.92,12.03],
  // AWS 8.0 – 9.0
  [8.02,9.60],[8.05,10.40],[8.08,11.20],[8.09,7.19],[8.11,9.00],[8.14,9.80],[8.17,10.60],[8.20,11.40],[8.23,12.00],[8.26,9.40],[8.29,10.20],[8.32,11.00],[8.35,11.80],[8.38,9.80],[8.40,8.25],[8.41,10.60],[8.43,8.22],[8.44,11.40],[8.47,12.20],[8.50,3.97],[8.10,8.40],[8.30,8.60],[8.20,12.50],
  [8.01,10.03],[8.04,11.03],[8.07,8.83],[8.12,10.43],[8.16,11.63],[8.19,9.53],[8.22,10.93],[8.27,10.03],[8.31,11.53],[8.34,9.23],[8.37,10.83],[8.42,11.93],[8.46,10.23],
  [8.05,10.83],[8.05,9.93],[8.15,11.23],[8.15,10.23],[8.25,9.93],[8.25,11.83],[8.35,10.53],[8.35,12.13],[8.45,11.13],[8.45,9.63],
  [8.02,11.43],[8.12,11.93],[8.22,10.33],[8.32,12.43],[8.42,11.23],
  [8.52,10.20],[8.55,11.00],[8.58,11.80],[8.60,7.89],[8.61,12.50],[8.64,10.60],[8.67,11.40],[8.70,13.61],[8.70,12.10],[8.73,10.00],[8.76,10.80],[8.79,11.60],[8.80,13.72],[8.80,9.34],[8.80,8.87],[8.82,12.40],[8.85,11.00],[8.88,11.80],[8.91,12.60],[8.94,13.25],[8.94,10.40],[8.97,11.20],[9.00,9.96],[8.65,9.50],[8.90,9.80],
  [8.51,11.23],[8.54,9.83],[8.57,12.03],[8.62,10.93],[8.66,11.73],[8.69,10.33],[8.72,12.43],[8.77,11.03],[8.81,11.93],[8.84,10.53],[8.87,12.23],[8.92,11.43],[8.96,10.73],
  [8.55,10.63],[8.55,12.33],[8.65,11.23],[8.65,12.83],[8.75,10.43],[8.75,11.53],[8.85,12.03],[8.85,11.23],[8.95,11.63],[8.95,12.93],
  [8.52,12.73],[8.62,11.53],[8.72,11.23],[8.82,12.83],[8.92,12.03],
  // AWS 9.0 – 10.5
  [9.02,12.00],[9.05,12.80],[9.08,11.40],[9.09,5.90],[9.11,12.20],[9.14,10.80],[9.17,11.60],[9.20,12.40],[9.21,9.54],[9.23,13.00],[9.26,11.20],[9.29,12.00],[9.32,12.80],[9.35,10.60],[9.38,11.40],[9.39,10.00],[9.39,14.22],[9.41,12.20],[9.44,13.00],[9.47,11.80],[9.50,14.22],[9.50,12.60],[9.10,13.50],[9.30,13.40],
  [9.01,11.83],[9.04,10.93],[9.07,12.43],[9.12,11.23],[9.16,12.03],[9.19,10.83],[9.22,11.73],[9.27,12.63],[9.31,11.43],[9.34,12.23],[9.37,10.93],[9.42,11.63],[9.46,12.43],
  [9.05,11.13],[9.05,12.23],[9.15,12.63],[9.15,11.43],[9.25,12.33],[9.25,13.23],[9.35,11.83],[9.35,12.63],[9.45,12.93],[9.45,11.23],
  [9.02,12.63],[9.12,12.93],[9.22,11.43],[9.32,12.13],[9.42,12.53],
  [9.55,11.00],[9.60,12.00],[9.65,12.80],[9.70,11.50],[9.75,13.20],[9.80,12.40],[9.85,11.80],[9.88,14.33],[9.88,14.20],[9.90,13.00],[9.95,12.20],[10.05,11.71],[10.09,13.52],[10.19,10.14],[10.29,12.25],[10.29,11.41],[10.39,12.11],[10.49,11.71],[9.62,10.60],[9.78,10.90],[10.00,12.60],[10.15,12.90],[9.70,13.60],[10.29,1.11],[10.51,1.05],
  [9.52,11.93],[9.57,12.53],[9.63,11.23],[9.68,12.23],[9.73,12.93],[9.79,11.73],[9.84,12.63],[9.92,12.03],[9.97,11.43],[10.05,12.23],[10.12,11.93],[10.22,12.43],
  [9.55,12.33],[9.55,13.03],[9.65,11.83],[9.65,12.53],[9.75,12.23],[9.75,11.33],[9.85,12.93],[9.85,12.33],[9.95,11.93],[9.95,13.23],
  [9.52,12.83],[9.62,13.23],[9.72,12.03],[9.82,12.83],[9.92,12.43],[10.02,11.83],
  // AWS above 10.5
  [10.60,12.72],[10.80,15.13],[10.80,14.49],[10.80,13.16],[10.80,12.04],[10.90,13.28],[10.90,1.21],[11.00,13.79],[11.10,14.73],[11.20,13.52],[11.29,15.87],[11.29,12.38],[11.41,13.28],[11.70,15.24],[11.79,14.39],[11.79,1.29],[12.69,16.20],[12.80,15.60],[12.69,15.13]
];

const sodarTicks = [2, 4, 6, 8, 10, 12, 14, 16];
const towerTicks = [0, 2.5, 5, 7.5, 10, 12.5, 15, 17.5];
const awsTicks = [2, 4, 6, 8, 10, 12];
const panelTags = ["(a)", "(b)"];
const correlations = [0.94, 0.92];
const xLabels = ["tower hr", "AWS hr"];
const yLabel = "SODAR hr";

const labelFont = "Lato, 'Open Sans', sans-serif";
const tickFont = "'DejaVu Sans', sans-serif";

function scatterPanel({points, xDomain, xTicks, xFormat, tag, coeff, xLabel, height, marginTop, marginBottom, tagDy, xLabelDy}) {
  return Plot.plot({
    width: 783,
    height,
    marginLeft: 143,
    marginRight: 2,
    marginTop,
    marginBottom,
    style: {fontFamily: tickFont, fontSize: "30px", color: "#000", background: "#fff", overflow: "visible"},
    x: {domain: xDomain, label: null},
    y: {domain: [0.26, 16.93], label: null},
    marks: [
      Plot.axisX(xTicks, {tickSize: 7, tickPadding: 6, tickFormat: xFormat, fontSize: 30, fontFamily: tickFont, stroke: "#000", strokeWidth: 1.4, label: null}),
      Plot.axisY(sodarTicks, {tickSize: 7, tickPadding: 9, fontSize: 30, fontFamily: tickFont, stroke: "#000", strokeWidth: 1.4, label: null}),
      Plot.dot(points, {x: d => d[0], y: d => d[1], r: 5.6, stroke: "#000", strokeWidth: 1.8, fill: "none"}),
      Plot.frame({stroke: "#111", strokeWidth: 1.6}),
      Plot.text([`correl. coeff. : ${coeff.toFixed(2)}`], {frameAnchor: "top-left", dx: 23, dy: 41, textAnchor: "start", lineAnchor: "middle", fontFamily: labelFont, fontSize: 30, fill: "#000"}),
      Plot.text([tag], {frameAnchor: "top-left", dx: -143, dy: tagDy, textAnchor: "start", lineAnchor: "middle", fontFamily: labelFont, fontSize: 32, fill: "#000"}),
      Plot.text([xLabel], {frameAnchor: "bottom", dy: xLabelDy, lineAnchor: "middle", fontFamily: labelFont, fontSize: 31, fill: "#000"}),
      Plot.text([yLabel], {frameAnchor: "left", dx: -78, rotate: -90, lineAnchor: "middle", fontFamily: labelFont, fontSize: 33, fill: "#000"})
    ]
  });
}

const chart = document.getElementById("chart");
chart.append(scatterPanel({
  points: towerVsSodar,
  xDomain: [-0.545, 18.455],
  xTicks: towerTicks,
  xFormat: d3.format(".1f"),
  tag: panelTags[0],
  coeff: correlations[0],
  xLabel: xLabels[0],
  height: 505, marginTop: 1, marginBottom: 89, tagDy: 20, xLabelDy: 64
}));
chart.append(scatterPanel({
  points: awsVsSodar,
  xDomain: [0.437, 13.386],
  xTicks: awsTicks,
  xFormat: d3.format("d"),
  tag: panelTags[1],
  coeff: correlations[1],
  xLabel: xLabels[1],
  height: 508, marginTop: 18, marginBottom: 75, tagDy: 20.5, xLabelDy: 59
}));
</script>
</body>
</html>
